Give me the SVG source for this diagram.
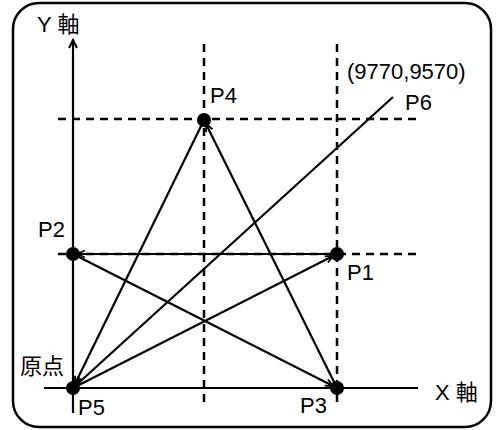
<svg xmlns="http://www.w3.org/2000/svg" width="498" height="430" viewBox="0 0 498 430">
<defs>
<style>
.t{font-family:"Liberation Sans","Noto Sans CJK JP",sans-serif;font-size:22px;fill:#000}
.ln{stroke:#000;stroke-width:2.2;fill:none}
.dash{stroke:#000;stroke-width:2.5;fill:none;stroke-dasharray:8,6}
.dot{fill:#000}
</style>
<marker id="ah" markerWidth="14" markerHeight="10" refX="13" refY="4" orient="auto" markerUnits="userSpaceOnUse">
<path d="M1,0.5 L9,4 L1,7.5" fill="none" stroke="#000" stroke-width="1.8"/>
</marker>
<marker id="ax" markerWidth="12" markerHeight="10" refX="9" refY="5" orient="auto" markerUnits="userSpaceOnUse">
<path d="M1,1 L9,5 L1,9" fill="none" stroke="#000" stroke-width="2"/>
</marker>
</defs>
<rect x="13" y="3" width="478" height="424" rx="26" ry="26" fill="#fff" stroke="#000" stroke-width="2.5"/>
<g id="grid">
<line class="dash" x1="58" y1="119" x2="418" y2="119"/>
<line class="dash" x1="58" y1="254" x2="418" y2="254"/>
<line class="dash" x1="204" y1="44" x2="204" y2="404"/>
<line class="dash" x1="337" y1="44" x2="337" y2="404"/>
</g>
<g id="axes">
<line class="ln" x1="73" y1="413" x2="73" y2="40" marker-end="url(#ax)"/>
<line class="ln" x1="44" y1="388" x2="418" y2="388"/>
</g>
<g id="connectors">
<line class="ln" x1="73" y1="388" x2="337" y2="254" marker-end="url(#ah)"/>
<line class="ln" x1="337" y1="254" x2="73" y2="254" marker-end="url(#ah)"/>
<line class="ln" x1="73" y1="254" x2="337" y2="388" marker-end="url(#ah)"/>
<line class="ln" x1="337" y1="388" x2="204" y2="120" marker-end="url(#ah)"/>
<line class="ln" x1="204" y1="120" x2="73" y2="388" marker-end="url(#ah)"/>
<line class="ln" x1="393" y1="97" x2="73" y2="388" marker-end="url(#ah)"/>
</g>
<g id="P1"><circle class="dot" cx="337" cy="254" r="7"/><text class="t" x="347" y="280">P1</text></g>
<g id="P2"><circle class="dot" cx="73" cy="254" r="7"/><text class="t" x="38" y="237">P2</text></g>
<g id="P3"><circle class="dot" cx="337" cy="388" r="7"/><text class="t" x="300" y="413">P3</text></g>
<g id="P4"><circle class="dot" cx="204" cy="120" r="7"/><text class="t" x="210" y="103">P4</text></g>
<g id="P5"><circle class="dot" cx="73" cy="388" r="7"/><text class="t" x="78" y="415">P5</text><text class="t" x="20" y="374">原点</text></g>
<g id="P6"><text class="t" x="405" y="110">P6</text><text class="t" x="347" y="79">(9770,9570)</text></g>
<g id="labels">
<text class="t" x="37" y="32">Y 軸</text>
<text class="t" x="435" y="400">X 軸</text>
</g>
</svg>
